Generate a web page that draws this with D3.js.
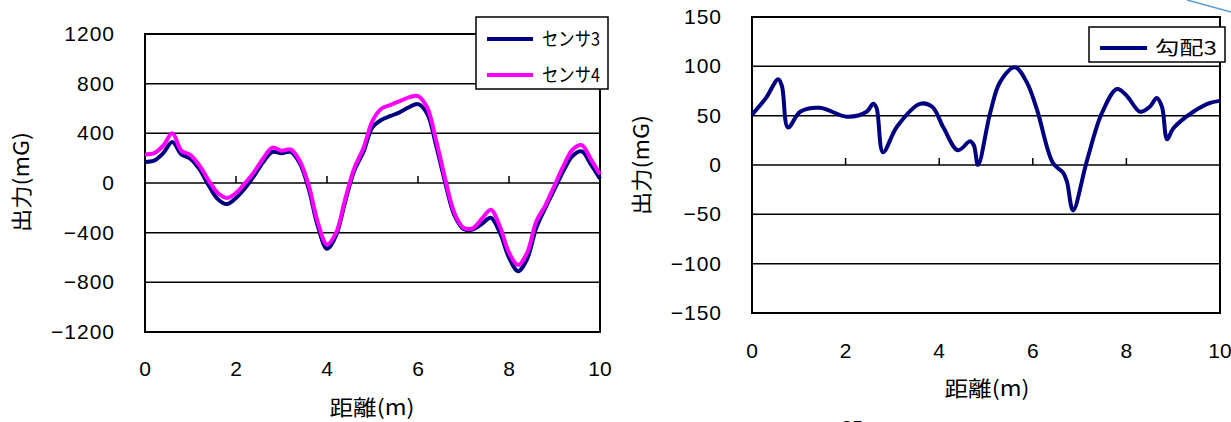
<!DOCTYPE html>
<html><head><meta charset="utf-8">
<script src="https://cdn.jsdelivr.net/npm/d3@7/dist/d3.min.js"></script>
<style>
html,body{margin:0;padding:0;background:#fff;}
svg text{font-family:"Liberation Sans",Arial,sans-serif;fill:#000;}
.jp{font-family:"Noto Sans CJK JP",sans-serif;}
</style></head><body>
<svg id="c" width="1231" height="422"></svg>
<script>
// ---- data: left chart ----
const distL = [0,0.2,0.4,0.6,0.8,1.0,1.2,1.4,1.6,1.8,2.0,2.2,2.4,2.6,2.8,3.0,3.2,3.4,3.6,3.8,4.0,4.2,4.4,4.6,4.8,5.0,5.2,5.4,5.6,5.8,6.0,6.2,6.4,6.6,6.8,7.0,7.2,7.4,7.6,7.8,8.0,8.2,8.4,8.6,8.8,9.0,9.2,9.4,9.6,9.8,10];
const sensor3 = [170,180,240,330,230,195,110,-20,-130,-170,-120,-40,60,170,250,240,250,160,-50,-350,-530,-420,-150,100,250,450,510,540,570,610,635,560,300,0,-260,-370,-375,-330,-280,-400,-600,-710,-610,-360,-200,-50,100,220,255,150,35];
const sensor4 = [230,240,300,400,260,225,140,20,-80,-120,-80,0,90,200,285,260,270,180,-20,-320,-495,-400,-130,120,280,500,600,630,660,690,700,610,340,30,-240,-360,-365,-290,-215,-350,-560,-660,-560,-310,-180,-20,140,270,305,190,70];
const yTicksL = [-1200,-800,-400,0,400,800,1200];
const xTicks = [0,2,4,6,8,10];
const legendL = ["センサ3","センサ4"];
// ---- data: right chart ----
const distR = [0,0.3,0.56,0.64,0.77,1.03,1.45,2.03,2.45,2.59,2.66,2.8,3.1,3.59,3.85,4.09,4.4,4.66,4.74,4.83,5.09,5.3,5.62,5.87,6.09,6.43,6.65,6.73,6.86,7.16,7.48,7.8,8.01,8.29,8.5,8.65,8.76,8.87,9.0,9.43,9.79,10];
const grad3 = [51,68,87,80,38,54,58,49,54,62,58,13,39,62,59,38,15,24,20,0,53,84,99,84,56,2,-8,-17,-46,5,53,77,70,54,59,68,59,26,37,54,63,65];
const yTicksR = [-150,-100,-50,0,50,100,150];
const legendR = ["勾配3"];

const C3 = "#000080", C4 = "#ff00ff";
const svg = d3.select("#c");
const fmt = d => d < 0 ? "\u2212" + Math.abs(d) : String(d);

function chart(o){
  const x = d3.scaleLinear().domain([0,10]).range([o.x0,o.x1]);
  const y = d3.scaleLinear().domain(o.ydom).range([o.y1,o.y0]);
  const g = svg.append("g");
  g.selectAll(".gr").data(o.yticks).join("line")
    .attr("x1",o.x0).attr("x2",o.x1).attr("y1",d=>y(d)).attr("y2",d=>y(d))
    .attr("stroke","#000").attr("stroke-width",1.5);
  g.append("rect").attr("x",o.x0).attr("y",o.y0).attr("width",o.x1-o.x0).attr("height",o.y1-o.y0)
    .attr("fill","none").attr("stroke","#000").attr("stroke-width",2);
  g.selectAll(".xt").data(xTicks).join("line")
    .attr("x1",d=>x(d)).attr("x2",d=>x(d)).attr("y1",y(0)-7).attr("y2",y(0))
    .attr("stroke","#000").attr("stroke-width",1.5);
  g.selectAll(".yl").data(o.yticks).join("text")
    .attr("x",o.x0-30).attr("y",d=>y(d)+7).attr("text-anchor","end")
    .attr("font-size",21).attr("letter-spacing",1).text(fmt);
  g.selectAll(".xl").data(xTicks).join("text")
    .attr("x",d=>x(d)).attr("y",o.xly).attr("text-anchor","middle")
    .attr("font-size",21).text(d=>d);
  g.append("text").attr("class","jp").attr("x",o.xtx).attr("y",o.xty).attr("text-anchor","middle")
    .attr("font-size",21).attr("textLength",85).attr("lengthAdjust","spacingAndGlyphs").text("距離(m)");
  g.append("text").attr("class","jp").attr("transform",`translate(${o.ytx},${o.yty}) rotate(-90)`)
    .attr("text-anchor","middle").attr("font-size",21).attr("textLength",100).attr("lengthAdjust","spacingAndGlyphs").text("出力(mG)");
  o.series.forEach(s=>{
    const line = d3.line().x((d,i)=>x(s.xs[i])).y(d=>y(d)).curve(d3.curveCatmullRom.alpha(0.5));
    g.append("path").datum(s.vals).attr("d",line).attr("fill","none")
      .attr("stroke",s.color).attr("stroke-width",4).attr("stroke-linejoin","round");
  });
  const L = o.legend;
  g.append("rect").attr("x",L.x).attr("y",L.y).attr("width",L.w).attr("height",L.h)
    .attr("fill","#fff").attr("stroke","#000").attr("stroke-width",1.5);
  L.items.forEach((it,i)=>{
    const yy = L.y + L.first + i*L.step;
    g.append("line").attr("x1",L.x+L.lx0).attr("x2",L.x+L.lx1).attr("y1",yy).attr("y2",yy)
      .attr("stroke",it.color).attr("stroke-width",4);
    g.append("text").attr("class","jp").attr("x",L.x+L.tx).attr("y",yy+7)
      .attr("font-size",19).attr("textLength",L.tw).attr("lengthAdjust","spacingAndGlyphs").text(it.name);
  });
}

chart({x0:145,x1:600,y0:34,y1:332,ydom:[-1200,1200],yticks:yTicksL,
  xly:376,xtx:372,xty:415,ytx:29,yty:182,
  series:[{xs:distL,vals:sensor3,color:C3},{xs:distL,vals:sensor4,color:C4}],
  legend:{x:476,y:17,w:132,h:72,first:22,step:36,lx0:11,lx1:57,tx:66,tw:58,
    items:[{name:legendL[0],color:C3},{name:legendL[1],color:C4}]}});

chart({x0:752,x1:1220,y0:17,y1:313,ydom:[-150,150],yticks:yTicksR,
  xly:358,xtx:987,xty:396,ytx:649,yty:165,
  series:[{xs:distR,vals:grad3,color:C3}],
  legend:{x:1089,y:27,w:136,h:35,first:21,step:0,lx0:11,lx1:58,tx:66,tw:62,
    items:[{name:legendR[0],color:C3}]}});

svg.append("line").attr("x1",1187).attr("y1",0).attr("x2",1231).attr("y2",12)
  .attr("stroke","#5b9bd5").attr("stroke-width",1.5);
svg.append("text").attr("x",852).attr("y",435).attr("text-anchor","middle").attr("font-size",20).text("25");
</script></body></html>
